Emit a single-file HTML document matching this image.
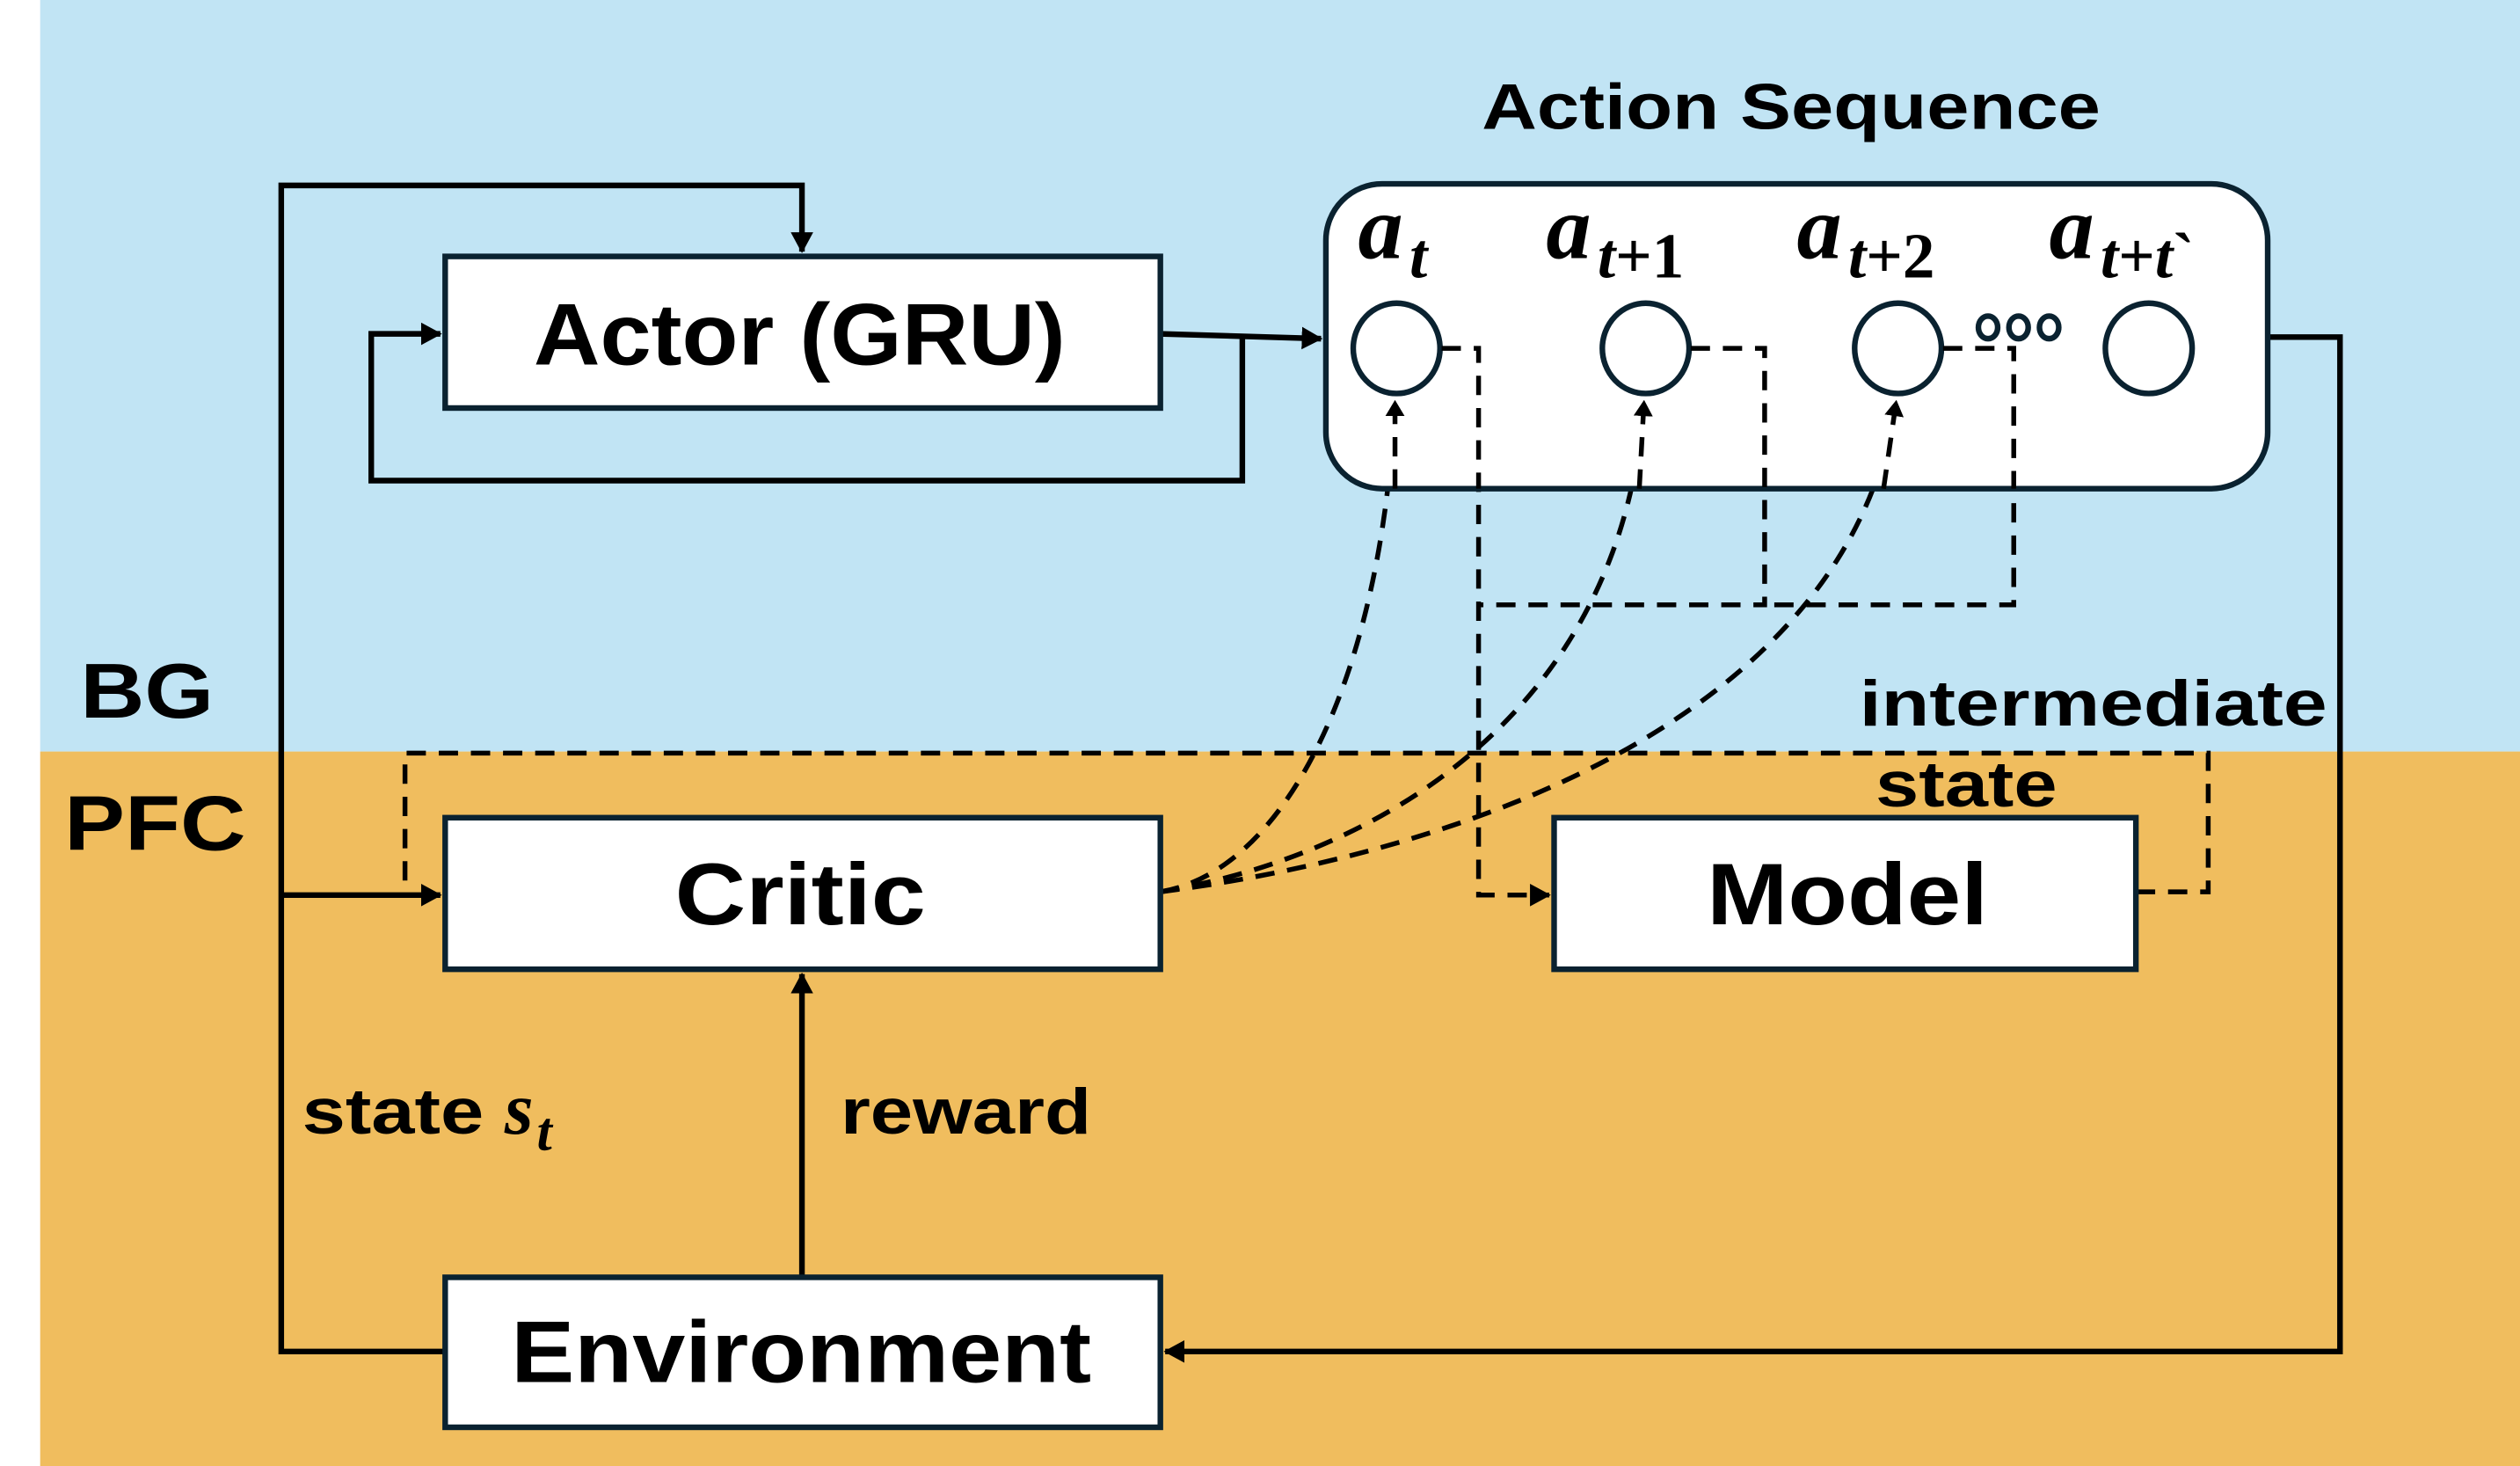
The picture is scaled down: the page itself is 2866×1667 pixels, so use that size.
<!DOCTYPE html>
<html><head><meta charset="utf-8"><style>html,body{margin:0;padding:0;background:#fff}svg{display:block}</style></head>
<body>
<svg width="2866" height="1667" viewBox="0 0 1568 909" preserveAspectRatio="none" xmlns="http://www.w3.org/2000/svg">
<defs>
<marker id="ar" markerWidth="13" markerHeight="14" refX="12" refY="7" orient="auto" markerUnits="userSpaceOnUse"><path d="M0,0 L13,7 L0,14 z" fill="#000"/></marker>
<marker id="as" markerWidth="10" markerHeight="12" refX="10" refY="6" orient="auto" markerUnits="userSpaceOnUse"><path d="M0,0 L10,6 L0,12 z" fill="#000"/></marker>
</defs>
<rect x="25" y="0" width="1543" height="466" fill="#c1e4f4"/>
<rect x="25" y="466" width="1543" height="443" fill="#f0bd5e"/>
<g font-family="Liberation Sans, sans-serif" font-weight="bold" fill="#000" lengthAdjust="spacingAndGlyphs">
<text x="50" y="445" font-size="48" textLength="83" lengthAdjust="spacingAndGlyphs">BG</text>
<text x="40" y="527" font-size="48" textLength="113" lengthAdjust="spacingAndGlyphs">PFC</text>
<text x="922" y="80" font-size="40" textLength="385" lengthAdjust="spacingAndGlyphs">Action Sequence</text>
<text x="1157" y="450" font-size="40" textLength="291" lengthAdjust="spacingAndGlyphs">intermediate</text>
<text x="1167" y="500" font-size="40" textLength="113" lengthAdjust="spacingAndGlyphs">state</text>
<text x="188" y="703" font-size="40" textLength="113" lengthAdjust="spacingAndGlyphs">state</text>
<text x="314" y="703" font-family="Liberation Serif, serif" font-style="italic" font-size="46">s</text>
<text x="334" y="713" font-family="Liberation Serif, serif" font-style="italic" font-size="34">t</text>
<text x="523" y="703" font-size="40" textLength="156" lengthAdjust="spacingAndGlyphs">reward</text>
</g>
<g fill="none" stroke="#000" stroke-width="3.5">
<path d="M722,207 L822,210" marker-end="url(#ar)"/>
<path d="M773,207 L773,298 L231,298 L231,207 L274,207" marker-end="url(#ar)"/>
<path d="M277,838 L175,838 L175,115 L499,115 L499,156" marker-end="url(#ar)"/>
<path d="M175,555 L274,555" marker-end="url(#ar)"/>
<path d="M499,792 L499,604" marker-end="url(#ar)"/>
<path d="M1411,209 L1456,209 L1456,838 L725,838" marker-end="url(#ar)"/>
</g>
<g fill="none" stroke="#000" stroke-width="3" stroke-dasharray="12,8">
<path d="M897,216 L920,216 L920,555 L964,555" marker-end="url(#ar)"/>
<path d="M1052,216 L1098,216 L1098,375 L920,375"/>
<path d="M1209,216 L1253,216 L1253,375 L1098,375"/>
<path d="M1329,553 L1374,553 L1374,467 L252,467 L252,555"/>
<path d="M722,553 C800,540 860,420 868,248" marker-end="url(#as)"/>
<path d="M722,553 C860,530 1010,440 1023,248" marker-end="url(#as)"/>
<path d="M722,553 C900,530 1150,450 1180,248" marker-end="url(#as)"/>
</g>
<g fill="#fff" stroke="#0a2230" stroke-width="3.5">
<rect x="825" y="114" width="586" height="189" rx="35"/>
<rect x="277" y="159" width="445" height="94"/>
<rect x="277" y="507" width="445" height="94"/>
<rect x="967" y="507" width="362" height="94"/>
<rect x="277" y="792" width="445" height="93"/>
<ellipse cx="869" cy="216" rx="27" ry="28"/>
<ellipse cx="1024" cy="216" rx="27" ry="28"/>
<ellipse cx="1181" cy="216" rx="27" ry="28"/>
<ellipse cx="1337" cy="216" rx="27" ry="28"/>
<ellipse cx="1237" cy="203" rx="6" ry="7"/>
<ellipse cx="1256" cy="203" rx="6" ry="7"/>
<ellipse cx="1275" cy="203" rx="6" ry="7"/>
</g>
<g fill="none" stroke="#000" stroke-width="3" stroke-dasharray="12,8">
<path d="M897,216 L920,216 L920,303"/>
<path d="M1052,216 L1098,216 L1098,303"/>
<path d="M1209,216 L1253,216 L1253,303"/>
<path d="M868,303 L868,248" marker-end="url(#as)"/>
<path d="M1020,303 L1023,248" marker-end="url(#as)"/>
<path d="M1172,303 L1180,248" marker-end="url(#as)"/>
</g>
<g font-family="Liberation Sans, sans-serif" font-weight="bold" fill="#000">
<text x="332" y="226" font-size="54" textLength="331" lengthAdjust="spacingAndGlyphs">Actor (GRU)</text>
<text x="420" y="573" font-size="54" textLength="156" lengthAdjust="spacingAndGlyphs">Critic</text>
<text x="1062" y="573" font-size="54" textLength="175" lengthAdjust="spacingAndGlyphs">Model</text>
<text x="318" y="857" font-size="54" textLength="361" lengthAdjust="spacingAndGlyphs">Environment</text>
</g>
<g font-family="Liberation Serif, serif" font-weight="bold" fill="#000">
<text x="845" y="160" font-size="56" font-style="italic">a</text><text x="877" y="172" font-size="40" font-style="italic">t</text>
<text x="962" y="160" font-size="56" font-style="italic">a</text><text x="994" y="172" font-size="40"><tspan font-style="italic">t</tspan>+1</text>
<text x="1118" y="160" font-size="56" font-style="italic">a</text><text x="1150" y="172" font-size="40"><tspan font-style="italic">t</tspan>+2</text>
<text x="1275" y="160" font-size="56" font-style="italic">a</text><text x="1307" y="172" font-size="40"><tspan font-style="italic">t</tspan>+<tspan font-style="italic">t</tspan>`</text>
</g>
</svg>
</body></html>
